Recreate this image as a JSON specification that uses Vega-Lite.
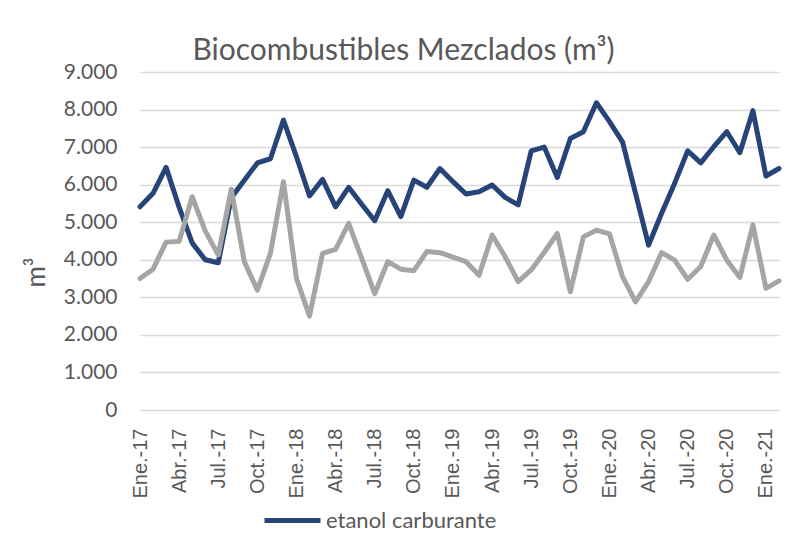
{
  "$schema": "https://vega.github.io/schema/vega-lite/v6.json",
  "width": 639,
  "height": 338,
  "autosize": {"type": "none"},
  "padding": {"left": 140, "top": 72, "right": 8, "bottom": 134},
  "background": "white",
  "config": {"view": {"stroke": null}, "font": "Lato"},
  "title": {
    "text": "Biocombustibles Mezclados (m³)",
    "font": "Lato",
    "fontSize": 30,
    "fontWeight": "normal",
    "color": "#595959",
    "anchor": "middle",
    "baseline": "alphabetic",
    "offset": 10,
    "dx": -56,
    "dy": 39
  },
  "data": {
    "values": [
      {"mes": "Ene.-17", "etanol": 5410, "biodiesel": 3500},
      {"mes": "Feb.-17", "etanol": 5770, "biodiesel": 3750},
      {"mes": "Mar.-17", "etanol": 6460, "biodiesel": 4470},
      {"mes": "Abr.-17", "etanol": 5400, "biodiesel": 4490},
      {"mes": "May.-17", "etanol": 4450, "biodiesel": 5680},
      {"mes": "Jun.-17", "etanol": 4000, "biodiesel": 4770},
      {"mes": "Jul.-17", "etanol": 3920, "biodiesel": 4130},
      {"mes": "Ago.-17", "etanol": 5650, "biodiesel": 5880},
      {"mes": "Sep.-17", "etanol": 6120, "biodiesel": 3950},
      {"mes": "Oct.-17", "etanol": 6580, "biodiesel": 3190},
      {"mes": "Nov.-17", "etanol": 6690, "biodiesel": 4170},
      {"mes": "Dic.-17", "etanol": 7720, "biodiesel": 6080},
      {"mes": "Ene.-18", "etanol": 6740, "biodiesel": 3500},
      {"mes": "Feb.-18", "etanol": 5700, "biodiesel": 2500},
      {"mes": "Mar.-18", "etanol": 6140, "biodiesel": 4170},
      {"mes": "Abr.-18", "etanol": 5410, "biodiesel": 4280},
      {"mes": "May.-18", "etanol": 5930, "biodiesel": 4970},
      {"mes": "Jun.-18", "etanol": 5480, "biodiesel": 4040},
      {"mes": "Jul.-18", "etanol": 5040, "biodiesel": 3100},
      {"mes": "Ago.-18", "etanol": 5840, "biodiesel": 3950},
      {"mes": "Sep.-18", "etanol": 5150, "biodiesel": 3750},
      {"mes": "Oct.-18", "etanol": 6120, "biodiesel": 3710},
      {"mes": "Nov.-18", "etanol": 5930, "biodiesel": 4220},
      {"mes": "Dic.-18", "etanol": 6430, "biodiesel": 4190},
      {"mes": "Ene.-19", "etanol": 6080, "biodiesel": 4070},
      {"mes": "Feb.-19", "etanol": 5750, "biodiesel": 3950},
      {"mes": "Mar.-19", "etanol": 5810, "biodiesel": 3590},
      {"mes": "Abr.-19", "etanol": 5990, "biodiesel": 4660},
      {"mes": "May.-19", "etanol": 5660, "biodiesel": 4080},
      {"mes": "Jun.-19", "etanol": 5460, "biodiesel": 3420},
      {"mes": "Jul.-19", "etanol": 6900, "biodiesel": 3730},
      {"mes": "Ago.-19", "etanol": 7000, "biodiesel": 4200},
      {"mes": "Sep.-19", "etanol": 6190, "biodiesel": 4700},
      {"mes": "Oct.-19", "etanol": 7230, "biodiesel": 3150},
      {"mes": "Nov.-19", "etanol": 7410, "biodiesel": 4610},
      {"mes": "Dic.-19", "etanol": 8180, "biodiesel": 4790},
      {"mes": "Ene.-20", "etanol": 7680, "biodiesel": 4690},
      {"mes": "Feb.-20", "etanol": 7140, "biodiesel": 3550},
      {"mes": "Mar.-20", "etanol": 5770, "biodiesel": 2880},
      {"mes": "Abr.-20", "etanol": 4390, "biodiesel": 3420},
      {"mes": "May.-20", "etanol": 5240, "biodiesel": 4190},
      {"mes": "Jun.-20", "etanol": 6040, "biodiesel": 3990},
      {"mes": "Jul.-20", "etanol": 6900, "biodiesel": 3480},
      {"mes": "Ago.-20", "etanol": 6580, "biodiesel": 3820},
      {"mes": "Sep.-20", "etanol": 7010, "biodiesel": 4660},
      {"mes": "Oct.-20", "etanol": 7410, "biodiesel": 3990},
      {"mes": "Nov.-20", "etanol": 6850, "biodiesel": 3530},
      {"mes": "Dic.-20", "etanol": 7970, "biodiesel": 4930},
      {"mes": "Ene.-21", "etanol": 6230, "biodiesel": 3240},
      {"mes": "Feb.-21", "etanol": 6430, "biodiesel": 3440}
    ]
  },
  "transform": [
    {"fold": ["etanol", "biodiesel"], "as": ["serie", "valor"]}
  ],
  "mark": {"type": "line", "strokeWidth": 5, "strokeJoin": "round", "strokeCap": "round"},
  "encoding": {
    "x": {
      "field": "mes",
      "type": "ordinal",
      "sort": null,
      "scale": {"type": "point", "padding": 0},
      "axis": {
        "title": null,
        "values": ["Ene.-17", "Abr.-17", "Jul.-17", "Oct.-17", "Ene.-18", "Abr.-18", "Jul.-18", "Oct.-18", "Ene.-19", "Abr.-19", "Jul.-19", "Oct.-19", "Ene.-20", "Abr.-20", "Jul.-20", "Oct.-20", "Ene.-21"],
        "labelAngle": -90,
        "labelFont": "Liberation Sans",
        "labelFontSize": 20,
        "labelColor": "#595959",
        "labelPadding": 18,
        "labelOverlap": false,
        "ticks": false,
        "domain": false,
        "grid": false
      }
    },
    "y": {
      "field": "valor",
      "type": "quantitative",
      "scale": {"domain": [0, 9000], "nice": false},
      "axis": {
        "title": "m³",
        "titleFont": "Lato",
        "titleFontSize": 26,
        "titleFontWeight": "normal",
        "titleColor": "#595959",
        "titleY": 200,
        "titlePadding": 14,
        "values": [0, 1000, 2000, 3000, 4000, 5000, 6000, 7000, 8000, 9000],
        "labelExpr": "replace(format(datum.value, ','), ',', '.')",
        "labelFont": "Lato",
        "labelFontSize": 21,
        "labelColor": "#595959",
        "labelPadding": 23,
        "labelOverlap": false,
        "ticks": false,
        "domain": false,
        "grid": true,
        "gridColor": "#d9d9d9",
        "gridWidth": 1.3
      }
    },
    "color": {
      "field": "serie",
      "type": "nominal",
      "scale": {"domain": ["etanol", "biodiesel"], "range": ["#264478", "#a5a5a5"]},
      "legend": {
        "title": null,
        "values": ["etanol"],
        "labelExpr": "datum.label == 'etanol' ? 'etanol carburante' : datum.label",
        "orient": "none",
        "legendX": 122,
        "legendY": 418,
        "symbolType": "stroke",
        "symbolSize": 3136,
        "symbolStrokeWidth": 5,
        "labelFont": "Lato",
        "labelFontSize": 22,
        "labelColor": "#595959",
        "labelOffset": 3,
        "labelLimit": 400
      }
    }
  }
}
